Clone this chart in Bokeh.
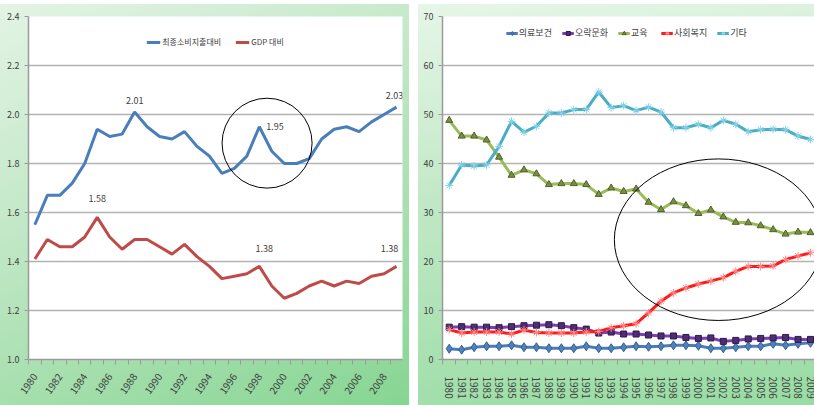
import math

from bokeh.core.properties import value
from bokeh.embed import file_html
from bokeh.layouts import row
from bokeh.models import (ColumnDataSource, FixedTicker, Legend, LegendItem,
                          PrintfTickFormatter, Range1d)
from bokeh.plotting import figure
from bokeh.resources import INLINE

# ---------------------------------------------------------------- data
years = list(range(1980, 2010))

# 복지지출 비율 (왼쪽)
cons_name = "최종소비지출대비"
gdp_name = "GDP 대비"
final_consumption_ratio = [1.55, 1.67, 1.67, 1.72, 1.80, 1.94, 1.91, 1.92, 2.01, 1.95,
                           1.91, 1.90, 1.93, 1.87, 1.83, 1.76, 1.78, 1.83, 1.95, 1.85,
                           1.80, 1.80, 1.82, 1.90, 1.94, 1.95, 1.93, 1.97, 2.00, 2.03]
gdp_ratio = [1.41, 1.49, 1.46, 1.46, 1.50, 1.58, 1.50, 1.45, 1.49, 1.49,
             1.46, 1.43, 1.47, 1.42, 1.38, 1.33, 1.34, 1.35, 1.38, 1.30,
             1.25, 1.27, 1.30, 1.32, 1.30, 1.32, 1.31, 1.34, 1.35, 1.38]
cons_label_years = [1988, 1998, 2009]
gdp_label_years = [1985, 1998, 2009]

# 항목별 구성비 (오른쪽)
share_names = ["의료보건", "오락문화", "교육", "사회복지", "기타"]
health = [2.2, 2.0, 2.5, 2.7, 2.7, 2.9, 2.5, 2.5, 2.3, 2.3, 2.3, 2.7, 2.3, 2.3, 2.5,
          2.7, 2.6, 2.7, 2.9, 2.9, 2.8, 2.3, 2.3, 2.5, 2.7, 2.7, 3.2, 2.9, 3.2, 3.4]
recreation = [6.6, 6.7, 6.6, 6.6, 6.5, 6.7, 6.9, 7.0, 7.1, 6.9, 6.5, 6.2, 5.4, 5.6, 5.2,
              5.2, 5.0, 4.8, 4.8, 4.5, 4.3, 4.4, 3.7, 3.9, 4.2, 4.3, 4.4, 4.5, 4.1, 4.1]
education = [48.8, 45.6, 45.6, 44.8, 41.3, 37.6, 38.7, 37.9, 35.7, 35.9, 35.9, 35.7, 33.7, 35.0, 34.3,
             34.8, 32.1, 30.6, 32.2, 31.4, 29.8, 30.5, 29.1, 28.0, 27.9, 27.3, 26.5, 25.6, 26.0, 25.9]
welfare = [6.1, 5.4, 5.6, 5.6, 5.6, 5.2, 6.0, 5.5, 5.4, 5.4, 5.4, 5.6, 5.7, 6.5, 6.9,
           7.3, 9.5, 11.9, 13.6, 14.6, 15.4, 16.0, 16.7, 18.0, 19.0, 19.0, 19.1, 20.4, 21.1, 21.8]
other = [35.5, 39.7, 39.5, 39.7, 43.5, 48.6, 46.4, 47.6, 50.3, 50.3, 51.0, 51.0, 54.6, 51.4, 51.8,
         50.8, 51.5, 50.5, 47.3, 47.3, 48.0, 47.3, 48.8, 48.0, 46.5, 46.9, 47.0, 46.9, 45.6, 44.9]

left_y_ticks = [1.0, 1.2, 1.4, 1.6, 1.8, 2.0, 2.2, 2.4]
right_y_ticks = [0, 10, 20, 30, 40, 50, 60, 70]

# ---------------------------------------------------------------- style
FONT = "Noto Sans CJK KR"
TEXT = "#404040"
GRID = "#b3b3b3"
AXIS = "#9a9a9a"


def style_axes(p):
    for ax in (p.xaxis[0], p.yaxis[0]):
        ax.axis_line_color = AXIS
        ax.axis_line_width = 1.5
        ax.major_tick_line_color = AXIS
        ax.minor_tick_line_color = AXIS
        ax.major_label_text_font = FONT
        ax.major_label_text_color = TEXT
    p.xgrid.grid_line_color = None
    p.ygrid.grid_line_color = GRID
    p.ygrid.grid_line_width = 1.5
    p.outline_line_color = None
    p.background_fill_color = "white"
    p.border_fill_color = None


# ---------------------------------------------------------------- left panel
left = figure(width=409, height=401, output_backend="svg", toolbar_location=None,
              x_range=Range1d(1979.49, 2009.48), y_range=Range1d(1.0, 2.4),
              min_border_left=28, min_border_right=7, min_border_top=11,
              min_border_bottom=46)
left.styles = {"background": "linear-gradient(155deg, #e3f4e5 0%, #bde6c2 45%, #86d592 100%)"}
style_axes(left)

left.xaxis[0].ticker = FixedTicker(ticks=years[::2],
                                   minor_ticks=[y - 0.5 for y in years] + [years[-1] + 0.5])
left.xaxis[0].major_tick_out = 0
left.xaxis[0].major_tick_in = 0
left.xaxis[0].minor_tick_out = 5
left.xaxis[0].minor_tick_in = 0
left.xaxis[0].major_label_orientation = 0.96
left.xaxis[0].major_label_standoff = 10
left.xaxis[0].major_label_text_font_size = "10px"

left.yaxis[0].ticker = FixedTicker(ticks=left_y_ticks)
left.yaxis[0].formatter = PrintfTickFormatter(format="%.1f")
left.yaxis[0].major_tick_out = 4
left.yaxis[0].major_tick_in = 0
left.yaxis[0].minor_tick_out = 0
left.yaxis[0].minor_tick_in = 0
left.yaxis[0].major_label_standoff = 5
left.yaxis[0].major_label_text_font_size = "9px"

cons_line = left.line(years, final_consumption_ratio, line_color="#4a7ebb", line_width=3)
gdp_line = left.line(years, gdp_ratio, line_color="#be4b48", line_width=3)


# value labels on selected years
def point_labels(series, label_years, dxs, dys, align):
    idx = [years.index(y) for y in label_years]
    return ColumnDataSource(dict(
        x=[years[i] for i in idx],
        y=[series[i] for i in idx],
        text=[f"{series[i]:.2f}" for i in idx],
        dx=dxs, dy=dys, align=align,
    ))


cons_src = point_labels(final_consumption_ratio, cons_label_years,
                        [0, 7, -2], [-12, 0, -12], ["center", "left", "center"])
gdp_src = point_labels(gdp_ratio, gdp_label_years,
                       [0, 5, -7], [-19, -18, -18], ["center", "center", "center"])
for src in (cons_src, gdp_src):
    left.text(x="x", y="y", text="text", x_offset="dx", y_offset="dy", source=src,
              text_align="align", text_baseline="middle", text_font=value(FONT),
              text_font_size="9px", text_color=TEXT)

# highlight ring around the 1998 peak
left.ellipse(x=1998.62, y=1.883, width=7.22, height=0.367,
             fill_color=None, line_color="black", line_width=1)

left_legend = Legend(items=[LegendItem(label=cons_name, renderers=[cons_line]),
                            LegendItem(label=gdp_name, renderers=[gdp_line])],
                     location="top_center", orientation="horizontal",
                     background_fill_alpha=0, border_line_color=None,
                     label_text_font=FONT, label_text_font_size="8px",
                     label_text_color=TEXT, glyph_width=14, glyph_height=10,
                     label_standoff=2, spacing=14, margin=20, padding=2,
                     label_height=10)
left.add_layout(left_legend)

# ---------------------------------------------------------------- right panel
right = figure(width=396, height=401, output_backend="svg", toolbar_location=None,
               x_range=Range1d(1979.46, 2009.32), y_range=Range1d(0, 70),
               min_border_left=24, min_border_right=0, min_border_top=12,
               min_border_bottom=45)
right.styles = {"background": "linear-gradient(172deg, #e6f6e8 0%, #c0e8c5 45%, #98dca3 100%)"}
style_axes(right)

right.xaxis[0].ticker = FixedTicker(ticks=years,
                                    minor_ticks=[y - 0.5 for y in years] + [years[-1] + 0.5])
right.xaxis[0].major_tick_out = 0
right.xaxis[0].major_tick_in = 0
right.xaxis[0].minor_tick_out = 5
right.xaxis[0].minor_tick_in = 0
right.xaxis[0].major_label_orientation = -math.pi / 2
right.xaxis[0].major_label_standoff = 12
right.xaxis[0].major_label_text_font_size = "10px"

right.yaxis[0].ticker = FixedTicker(ticks=right_y_ticks)
right.yaxis[0].major_tick_out = 4
right.yaxis[0].major_tick_in = 0
right.yaxis[0].minor_tick_out = 0
right.yaxis[0].minor_tick_in = 0
right.yaxis[0].major_label_standoff = 5
right.yaxis[0].major_label_text_font_size = "9px"

series_specs = [
    (health, "#4a7ebb", "diamond", 9, "#4f81bd", "#35608f"),
    (recreation, "#7b3db3", "square", 6, "#4f2d73", "#2e1945"),
    (education, "#9bbb59", "triangle", 7, "#7a8f45", "#4f6228"),
    (welfare, "#ff1a1a", "asterisk", 8, None, "#ff8a8a"),
    (other, "#4bacc6", "asterisk", 8, None, "#86d4ea"),
]
items = []
for name, (vals, color, marker, size, fill, edge) in zip(share_names, series_specs):
    ln = right.line(years, vals, line_color=color, line_width=3)
    mk = right.scatter(years, vals, marker=marker, size=size, fill_color=fill,
                       line_color=edge, line_width=1)
    items.append(LegendItem(label=name, renderers=[ln, mk]))

# highlight ring around the welfare / education trend after 1995
right.ellipse(x=2001.61, y=24.45, width=16.71, height=32.98,
              fill_color=None, line_color="black", line_width=1)

right_legend = Legend(items=items, location="top_center", orientation="horizontal",
                      background_fill_alpha=0, border_line_color=None,
                      label_text_font=FONT, label_text_font_size="9px",
                      label_text_color=TEXT, glyph_width=12, glyph_height=10,
                      label_standoff=1, spacing=10, margin=10, padding=2,
                      label_height=10)
right.add_layout(right_legend)

layout = row(left, right, spacing=9, margin=(4, 0, 0, 0))
open("out.html", "w").write(file_html(layout, INLINE))
